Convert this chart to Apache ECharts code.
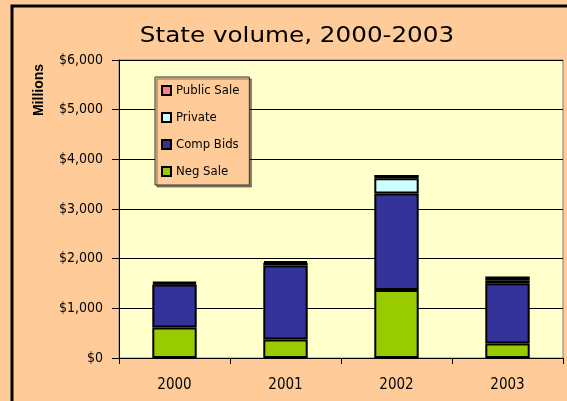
<!DOCTYPE html>
<html>
<head>
<meta charset="utf-8">
<script src="https://cdn.jsdelivr.net/npm/echarts@6/dist/echarts.min.js"></script>
<style>
  html, body { margin: 0; padding: 0; background: #ffffff; }
  #chart { width: 567px; height: 401px; }
</style>
</head>
<body>
<div id="chart"></div>
<script>
// Annual state bond volume, in millions of dollars, by sale method
const years = ['2000', '2001', '2002', '2003'];
const negSale = [615, 370, 1370, 290];
const compBids = [865, 1490, 1940, 1215];
const privateSale = [30, 60, 310, 60];
const publicSale = [20, 30, 65, 75];
const yTicks = [0, 1000, 2000, 3000, 4000, 5000, 6000];

const narrow = '"DejaVu Sans Condensed", "Liberation Sans Narrow", "Arial Narrow", sans-serif';

function fmtDollar(v) {
  return '$' + v.toLocaleString('en-US');
}

function barSeries(name, data, color) {
  return {
    name: name,
    type: 'bar',
    stack: 'total',
    data: data,
    barWidth: '40%',
    itemStyle: { color: color, borderColor: '#000000', borderWidth: 2 },
    emphasis: { disabled: true }
  };
}

const chart = echarts.init(document.getElementById('chart'), null, { renderer: 'canvas' });
chart.setOption({
  animation: false,
  backgroundColor: '#FFCC99',
  graphic: [
    {
      type: 'text',
      x: 297,
      y: 36,
      scaleX: 1.12,
      style: {
        text: 'State volume, 2000-2003',
        font: 'normal 22px "DejaVu Sans", Verdana, sans-serif',
        fill: '#000000',
        align: 'center',
        verticalAlign: 'middle'
      },
      z: 10
    },
    {
      type: 'text',
      x: 39,
      y: 90,
      rotation: Math.PI / 2,
      style: {
        text: 'Millions',
        font: 'bold 14px "Liberation Sans", Arial, sans-serif',
        fill: '#000000',
        align: 'center',
        verticalAlign: 'middle'
      },
      z: 10
    },
    {
      type: 'rect',
      shape: { x: 12, y: 6, width: 570, height: 400 },
      style: { fill: null, stroke: '#000000', lineWidth: 3 },
      z: 100
    }
  ],
  grid: {
    left: 119, right: 4, top: 60, bottom: 43,
    show: true,
    backgroundColor: '#FFFFCC',
    borderColor: '#808080',
    borderWidth: 1
  },
  legend: {
    data: ['Public Sale', 'Private', 'Comp Bids', 'Neg Sale'],
    orient: 'vertical',
    left: 155,
    top: 77,
    padding: [7, 10, 7, 6],
    itemGap: 14,
    itemWidth: 9,
    itemHeight: 9,
    icon: 'rect',
    backgroundColor: '#FFCC99',
    borderColor: '#333333',
    borderWidth: 1,
    shadowColor: 'rgba(0,0,0,0.45)',
    shadowOffsetX: 2,
    shadowOffsetY: 2,
    shadowBlur: 0,
    itemStyle: { borderColor: '#000000', borderWidth: 2 },
    textStyle: { fontFamily: narrow, fontSize: 13, color: '#000000' },
    selectedMode: false
  },
  xAxis: {
    type: 'category',
    data: years,
    axisLine: { lineStyle: { color: '#000000', width: 1 } },
    axisTick: { show: true, alignWithLabel: false, length: 6, lineStyle: { color: '#000000' } },
    axisLabel: { fontFamily: narrow, fontSize: 15, color: '#000000', margin: 20 }
  },
  yAxis: {
    type: 'value',
    min: yTicks[0],
    max: yTicks[yTicks.length - 1],
    interval: 1000,
    axisLine: { show: true, lineStyle: { color: '#000000', width: 1 } },
    axisTick: { show: true, length: 7, lineStyle: { color: '#000000' } },
    axisLabel: {
      fontFamily: narrow, fontSize: 14, color: '#000000', margin: 16,
      formatter: fmtDollar
    },
    splitLine: { show: true, lineStyle: { color: '#000000', width: 1 } }
  },
  series: [
    barSeries('Neg Sale', negSale, '#99CC00'),
    barSeries('Comp Bids', compBids, '#333399'),
    barSeries('Private', privateSale, '#CCFFFF'),
    barSeries('Public Sale', publicSale, '#FF8080')
  ]
});
</script>
</body>
</html>
